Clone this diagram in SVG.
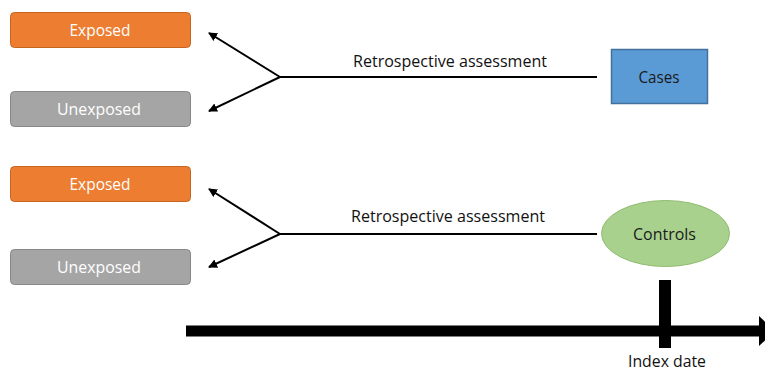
<svg xmlns="http://www.w3.org/2000/svg" width="765" height="371" viewBox="0 0 765 371">
<defs>
<marker id="ah" markerWidth="10" markerHeight="10" refX="8" refY="5" orient="auto" markerUnits="userSpaceOnUse">
<path d="M0,0.5 L9,5 L0,9.5 Z" fill="#000"/>
</marker>
<style>
text{font-family:"Open Sans","Noto Sans","DejaVu Sans",sans-serif;font-size:17px;text-anchor:middle;}
.exp{fill:#ED7D31;stroke:#C5641F;stroke-width:1;}
.unexp{fill:#A5A5A5;stroke:#878787;stroke-width:1;}
.wt{fill:#fff;}
.dk{fill:#1a1a1a;}
.ln{stroke:#000;stroke-width:2;fill:none;}
.arr{stroke:#000;stroke-width:2;fill:none;marker-end:url(#ah);}
.lbl{fill:#111;}
</style>
</defs>
<g id="exposed1"><rect class="exp" x="10.5" y="12.5" width="180" height="35" rx="4"/><text class="wt" x="100" y="36" textLength="61" lengthAdjust="spacingAndGlyphs">Exposed</text></g>
<g id="unexposed1"><rect class="unexp" x="10.5" y="91.5" width="180" height="35" rx="4"/><text class="wt" x="99" y="115" textLength="84" lengthAdjust="spacingAndGlyphs">Unexposed</text></g>
<g id="exposed2"><rect class="exp" x="10.5" y="166.5" width="180" height="35" rx="4"/><text class="wt" x="100" y="189.5" textLength="61" lengthAdjust="spacingAndGlyphs">Exposed</text></g>
<g id="unexposed2"><rect class="unexp" x="10.5" y="249.5" width="180" height="35" rx="4"/><text class="wt" x="99" y="272.5" textLength="84" lengthAdjust="spacingAndGlyphs">Unexposed</text></g>
<g id="cases"><rect x="611.5" y="49.5" width="96" height="54" fill="#5B9BD5" stroke="#41719C" stroke-width="1.5"/><text class="dk" x="659" y="82.5" textLength="41" lengthAdjust="spacingAndGlyphs">Cases</text></g>
<g id="controls"><ellipse cx="665.5" cy="233.5" rx="64" ry="33" fill="#A9D18E" stroke="#8FBC6F" stroke-width="1"/><text class="dk" x="664.5" y="239.5" textLength="63" lengthAdjust="spacingAndGlyphs">Controls</text></g>
<g id="connectors">
<line class="ln" x1="280" y1="77" x2="597" y2="77"/>
<line class="arr" x1="280" y1="77" x2="209" y2="33"/>
<line class="arr" x1="280" y1="77" x2="209" y2="111"/>
<line class="ln" x1="280" y1="234" x2="597" y2="234"/>
<line class="arr" x1="280" y1="234" x2="209" y2="189"/>
<line class="arr" x1="280" y1="234" x2="209" y2="267"/>
<text class="lbl" x="450" y="67" textLength="194" lengthAdjust="spacingAndGlyphs">Retrospective assessment</text>
<text class="lbl" x="448" y="222" textLength="194" lengthAdjust="spacingAndGlyphs">Retrospective assessment</text>
</g>
<g id="timeline">
<rect x="186" y="325.5" width="576" height="11" fill="#000"/>
<path d="M759,316 L775,331 L759,346 Z" fill="#000"/>
<rect x="659" y="280" width="12" height="68" fill="#000"/>
<text class="lbl" x="667" y="367" textLength="78" lengthAdjust="spacingAndGlyphs">Index date</text>
</g>
</svg>
